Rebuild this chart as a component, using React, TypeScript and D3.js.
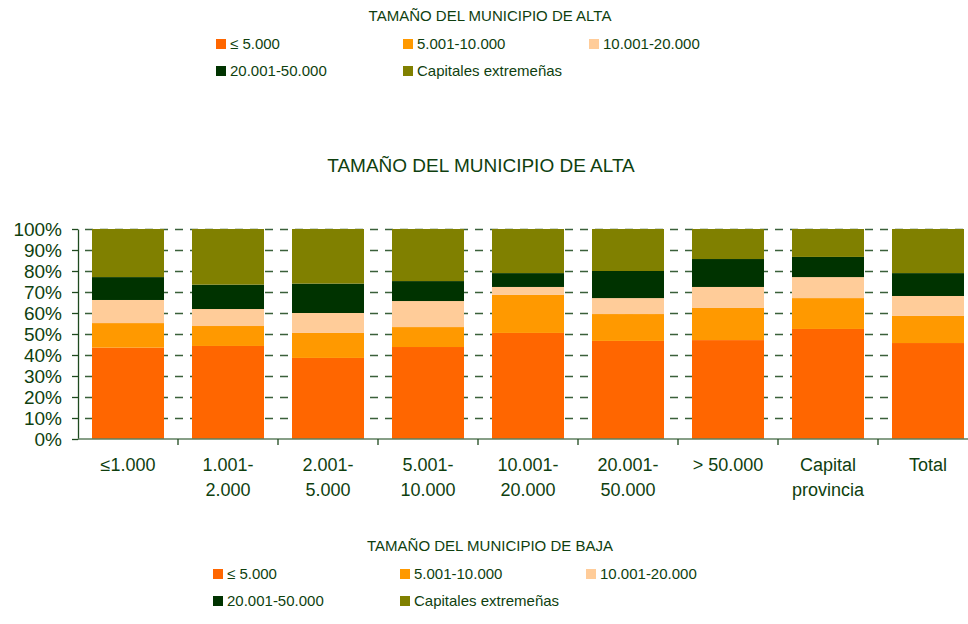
import React, { useEffect, useRef } from 'react';
import * as d3 from 'd3';

// categories on the x axis (size of the municipality of "alta"), two lines each
const categories = [
  ['≤1.000'],
  ['1.001-', '2.000'],
  ['2.001-', '5.000'],
  ['5.001-', '10.000'],
  ['10.001-', '20.000'],
  ['20.001-', '50.000'],
  ['> 50.000'],
  ['Capital', 'provincia'],
  ['Total'],
];

// series = size of municipality of "baja"
const seriesNames = ['≤ 5.000', '5.001-10.000', '10.001-20.000', '20.001-50.000', 'Capitales extremeñas'];
const seriesColors = ['#FF6600', '#FF9900', '#FFCC99', '#003300', '#808000'];

// percentages per category, one array per series
const upTo5000 = [43.5, 44.3, 38.6, 43.8, 50.5, 46.7, 47.1, 52.4, 45.7];
const from5001to10000 = [11.7, 9.5, 11.9, 9.5, 18.1, 12.8, 15.3, 14.7, 12.9];
const from10001to20000 = [11.0, 8.1, 9.5, 12.4, 3.8, 7.6, 10.0, 10.0, 9.5];
const from20001to50000 = [10.9, 11.6, 14.0, 9.5, 6.6, 12.9, 13.3, 9.6, 10.9];
const capitales = [22.9, 26.5, 26.0, 24.8, 21.0, 20.0, 14.3, 13.3, 21.0];

const yTicks = [0, 10, 20, 30, 40, 50, 60, 70, 80, 90, 100];

const textColor = '#0f3f0f';
const font = '"Liberation Sans", Arial, sans-serif';

export default function App() {
  const ref = useRef<SVGSVGElement | null>(null);

  useEffect(() => {
    const svg = d3.select(ref.current);
    svg.selectAll('*').remove();

    const allSeries = [upTo5000, from5001to10000, from10001to20000, from20001to50000, capitales];
    const table = categories.map((c, i) => {
      const row: any = { key: String(i) };
      seriesNames.forEach((s, j) => (row[s] = allSeries[j][i]));
      return row;
    });
    const stacked = d3.stack().keys(seriesNames)(table);

    const x = d3.scaleBand().domain(categories.map((c, i) => String(i))).range([78, 978]).padding(0);
    const y = d3.scaleLinear().domain([0, 100]).range([439, 229]);
    const barW = x.bandwidth() * 0.72;

    // dashed gridlines
    svg.append('g')
      .selectAll('line')
      .data(yTicks.filter(t => t > 0))
      .join('line')
      .attr('x1', 78).attr('x2', 978)
      .attr('y1', d => Math.round(y(d)) + 0.5).attr('y2', d => Math.round(y(d)) + 0.5)
      .attr('stroke', '#3a603a')
      .attr('stroke-width', 1.5)
      .attr('stroke-dasharray', '8,7')
      .attr('stroke-dashoffset', 8);

    // bars
    svg.append('g')
      .selectAll('g')
      .data(stacked)
      .join('g')
      .attr('fill', (d, i) => seriesColors[i])
      .selectAll('rect')
      .data(d => d)
      .join('rect')
      .attr('x', (d: any) => (x(d.data.key) as number) + (x.bandwidth() - barW) / 2)
      .attr('width', barW)
      .attr('y', d => y(d[1]))
      .attr('height', d => y(d[0]) - y(d[1]));

    // y axis
    const yAxis = svg.append('g')
      .attr('transform', 'translate(78,0)')
      .call(d3.axisLeft(y).tickValues(yTicks).tickFormat(d => d + '%').tickSize(6).tickSizeOuter(0));
    yAxis.select('.domain').attr('stroke', '#1f4a1f').attr('stroke-width', 1.3);
    yAxis.selectAll('.tick line').attr('stroke', '#1f4a1f').attr('stroke-width', 1.3);
    yAxis.selectAll('.tick text')
      .attr('x', -16)
      .attr('fill', textColor)
      .attr('font-size', 19)
      .attr('font-family', font);

    // x axis
    const xAxisG = svg.append('g').attr('transform', 'translate(0,439)');
    xAxisG.append('line')
      .attr('x1', 78).attr('x2', 978)
      .attr('stroke', '#5f7f5f').attr('stroke-width', 1.5);
    xAxisG.selectAll('line.tk')
      .data(categories.map((c, i) => String(i)).slice(1))
      .join('line')
      .attr('class', 'tk')
      .attr('x1', d => x(d) as number).attr('x2', d => x(d) as number)
      .attr('y1', 0).attr('y2', 6)
      .attr('stroke', '#1f4a1f').attr('stroke-width', 1.3);
    const lbl = xAxisG.selectAll('text.lbl')
      .data(categories)
      .join('text')
      .attr('class', 'lbl')
      .attr('text-anchor', 'middle')
      .attr('fill', textColor)
      .attr('font-size', 18)
      .attr('font-family', font)
      .attr('x', (d, i) => (x(String(i)) as number) + x.bandwidth() / 2)
      .attr('y', 32);
    lbl.selectAll('tspan')
      .data(d => d)
      .join('tspan')
      .attr('x', function () { return (this.parentNode as SVGTextElement).getAttribute('x'); })
      .attr('dy', (d, i) => (i === 0 ? 0 : 25))
      .text(d => d);

    // chart title
    svg.append('text')
      .attr('x', 481).attr('y', 172)
      .attr('text-anchor', 'middle')
      .attr('fill', textColor)
      .attr('font-size', 19)
      .attr('font-family', font)
      .text('TAMAÑO DEL MUNICIPIO DE ALTA');

    // legends
    const drawLegend = (title: string, top: number, left: number) => {
      const g = svg.append('g');
      g.append('text')
        .attr('x', 490).attr('y', top)
        .attr('text-anchor', 'middle')
        .attr('fill', textColor)
        .attr('font-size', 15)
        .attr('font-family', font)
        .text(title);
      const cols = [0, 187, 373];
      const item = g.selectAll('g.item')
        .data(seriesNames)
        .join('g')
        .attr('class', 'item')
        .attr('transform', (d, i) => `translate(${left + cols[i % 3]},${top + 28 + Math.floor(i / 3) * 27})`);
      item.append('rect')
        .attr('x', 0).attr('y', -10)
        .attr('width', 10).attr('height', 10)
        .attr('fill', (d, i) => seriesColors[i]);
      item.append('text')
        .attr('x', 14).attr('y', 0)
        .attr('fill', textColor)
        .attr('font-size', 15)
        .attr('font-family', font)
        .text(d => d);
    };
    drawLegend('TAMAÑO DEL MUNICIPIO DE ALTA', 21, 216);
    drawLegend('TAMAÑO DEL MUNICIPIO DE BAJA', 551, 213);
  }, []);

  return (
    <svg
      ref={ref}
      width={968}
      height={624}
      style={{ position: 'absolute', left: 0, top: 0, background: '#fff' }}
    />
  );
}
